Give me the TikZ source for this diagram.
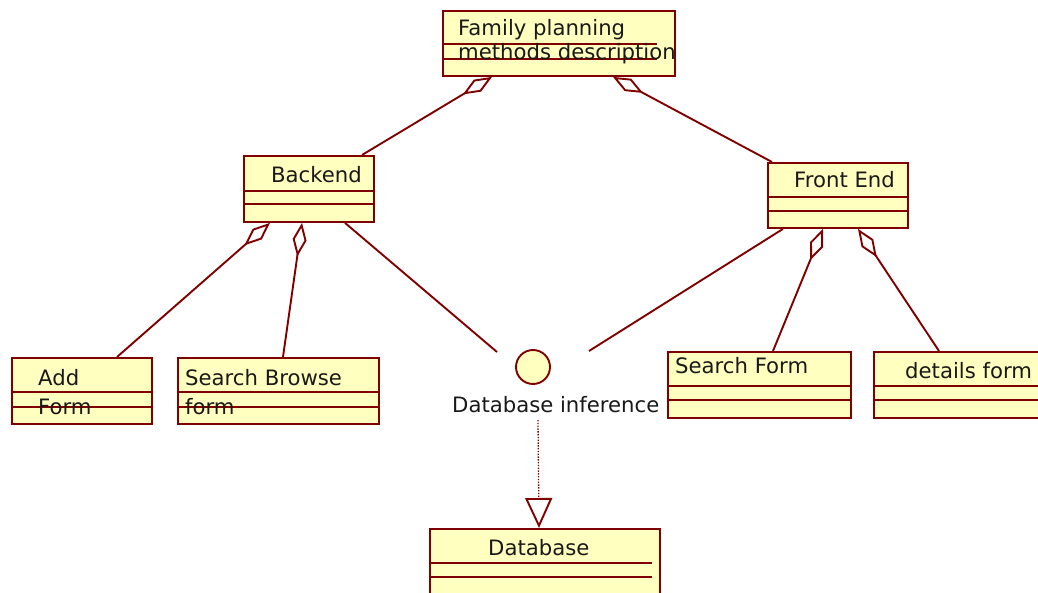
\documentclass[tikz,border=0pt]{standalone}
\usepackage{fontspec}
\setmainfont{DejaVu Sans}
\usetikzlibrary{arrows.meta,calc}
\definecolor{umlred}{RGB}{128,0,0}
\definecolor{umlfill}{RGB}{255,255,192}
\definecolor{umltext}{RGB}{25,25,25}
\begin{document}
\begin{tikzpicture}[x=1pt,y=-1pt,
  cls/.style={draw=umlred, fill=umlfill, line width=1.9pt, inner sep=0pt, anchor=north west},
  lbl/.style={inner sep=0pt, anchor=base west, font=\fontsize{21.2}{24}\selectfont, text=umltext},
  comp/.style={umlred, line width=1.9pt},
  conn/.style={umlred, line width=1.9pt},
  agg/.style={conn, {Diamond[open,length=34pt,width=14pt]}-}
]
\useasboundingbox (0,0) rectangle (1038,593);
\fill[white] (0,0) rectangle (1038,593);
\clip (0,0) rectangle (1038,593);

% class boxes
\node[cls, minimum width=232pt, minimum height=65pt] (fp) at (442,10) {};
\node[cls, minimum width=130pt, minimum height=66pt] (be) at (243,155) {};
\node[cls, minimum width=140pt, minimum height=65pt] (fe) at (767,162) {};
\node[cls, minimum width=140pt, minimum height=66pt] (add) at (11,357) {};
\node[cls, minimum width=201pt, minimum height=66pt] (sb) at (177,357) {};
\node[cls, minimum width=183pt, minimum height=66pt] (sf) at (667,351) {};
\node[cls, minimum width=180pt, minimum height=66pt] (df) at (873,351) {};
\node[cls, minimum width=230pt, minimum height=66pt] (db) at (429,528) {};

% compartment lines
\draw[comp] ($(fp.north west)+(0,34)$) -- ++(215,0);
\draw[comp] ($(fp.north west)+(0,49)$) -- ++(215,0);
\draw[comp] ($(be.north west)+(0,36)$) -- ++(132,0);
\draw[comp] ($(be.north west)+(0,49)$) -- ++(132,0);
\draw[comp] ($(fe.north west)+(0,35)$) -- ++(142,0);
\draw[comp] ($(fe.north west)+(0,49)$) -- ++(142,0);
\draw[comp] ($(add.north west)+(0,35)$) -- ++(142,0);
\draw[comp] ($(add.north west)+(0,50)$) -- ++(142,0);
\draw[comp] ($(sb.north west)+(0,35)$) -- ++(203,0);
\draw[comp] ($(sb.north west)+(0,50)$) -- ++(203,0);
\draw[comp] ($(sf.north west)+(0,35)$) -- ++(185,0);
\draw[comp] ($(sf.north west)+(0,49)$) -- ++(185,0);
\draw[comp] ($(df.north west)+(0,35)$) -- ++(180,0);
\draw[comp] ($(df.north west)+(0,49)$) -- ++(180,0);
\draw[comp] ($(db.north west)+(0,35)$) -- ++(223,0);
\draw[comp] ($(db.north west)+(0,49)$) -- ++(223,0);

% labels
\node[lbl] (fpt1) at (458,36) {Family planning};
\node[lbl] (fpt2) at (458,60) {methods description};
\node[lbl] (bet) at (271,183) {Backend};
\node[lbl] (fet) at (794,188) {Front End};
\node[lbl] (addt1) at (38,385) {Add};
\node[lbl] (addt2) at (38,414) {Form};
\node[lbl] (sbt1) at (185,385) {Search Browse};
\node[lbl] (sbt2) at (185,414) {form};
\node[lbl] (sft) at (675,373) {Search Form};
\node[lbl] (dft) at (905,378) {details form};
\node[lbl] (dbt) at (488,555) {Database};

% interface
\node[circle, draw=umlred, fill=umlfill, line width=1.9pt, minimum size=34pt, inner sep=0pt] (ifc) at (533,367) {};
\node[lbl] (ifct) at (452,412) {Database inference};
\coordinate (ifl) at (497,352);
\coordinate (ifr) at (589,351);

% aggregations
\draw[agg] ($(fp.south west)+(50,0)$) -- ($(be.north west)+(119,0)$);
\draw[agg] ($(fp.south west)+(171,0)$) -- ($(fe.north west)+(5,0)$);
\draw[agg] ($(be.south west)+(27,0)$) -- ($(add.north west)+(106,0)$);
\draw[agg] ($(be.south west)+(59,0)$) -- ($(sb.north west)+(106,0)$);
\draw[agg] ($(fe.south west)+(56,0)$) -- ($(sf.north west)+(106,0)$);
\draw[agg] ($(fe.south west)+(91,0)$) -- ($(df.north west)+(66,0)$);

% interface links
\draw[conn] ($(be.south west)+(102,0)$) -- (ifl);
\draw[conn] ($(fe.south west)+(16,0)$) -- (ifr);

% realization
\draw[umlred, line width=1.3pt, dash pattern=on 1.4pt off 1.4pt, -{Triangle[open,length=30pt,width=27pt,line width=1.9pt]}]
  ($(ifct.base west)+(86,8)$) -- ($(db.north west)+(110,0)$);
\end{tikzpicture}
\end{document}
